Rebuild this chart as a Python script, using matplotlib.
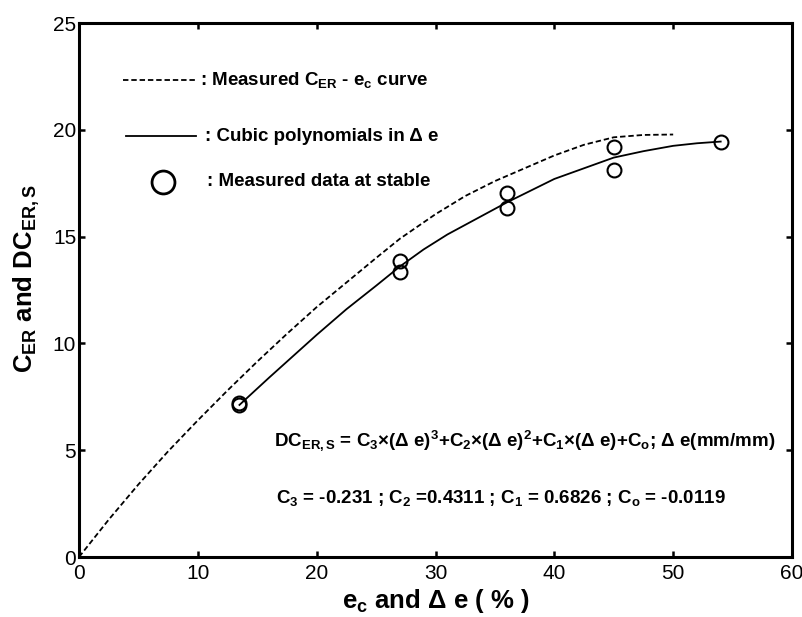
import matplotlib
matplotlib.use("Agg")
import matplotlib.pyplot as plt

plt.rcParams['font.family'] = ['Liberation Sans', 'DejaVu Sans']
plt.rcParams['mathtext.fontset'] = 'custom'
plt.rcParams['mathtext.rm'] = 'Liberation Sans:bold'
plt.rcParams['mathtext.bf'] = 'Liberation Sans:bold'
plt.rcParams['mathtext.it'] = 'Liberation Sans:bold'

# measured C_ER - e_c curve
ec_curve = [0, 2.5, 5, 7.5, 10, 12.5, 15, 17.5, 20, 22.5, 25, 27, 30,
            32.5, 35, 37.5, 40, 42.5, 45, 47.5, 50]
cer_curve = [0, 1.75, 3.4, 4.95, 6.4, 7.8, 9.15, 10.45, 11.7, 12.85, 14.0,
             14.9, 16.05, 16.9, 17.6, 18.2, 18.8, 19.3, 19.65, 19.76, 19.78]

# cubic polynomial fit in delta e
de_fit = [13.5, 16, 18, 20, 22.5, 25, 27, 29, 31, 33, 36, 38, 40, 42, 45,
          47.5, 50, 52, 54]
dc_fit = [7.12, 8.4, 9.4, 10.4, 11.6, 12.7, 13.6, 14.4, 15.1, 15.7, 16.6,
          17.15, 17.7, 18.1, 18.7, 19.0, 19.25, 19.37, 19.45]

# measured data at stable
de_meas = [13.5, 13.5, 27, 27, 36, 36, 45, 45, 54]
dc_meas = [7.2, 7.1, 13.85, 13.35, 17.05, 16.35, 19.2, 18.1, 19.45]

fig = plt.figure(figsize=(8.03, 6.17), dpi=100)
ax = fig.add_axes([0.0984, 0.0972, 0.8879, 0.8655])

dash = (0, (3, 1.6))
ax.plot(ec_curve, cer_curve, color='black', lw=1.3, linestyle=dash)
ax.plot(de_fit, dc_fit, color='black', lw=1.3)
ax.plot(de_meas, dc_meas, 'o', mfc='none', mec='black', mew=1.5, ms=10)

# hand-made legend
fs = 13.5
ax.plot([3.7, 9.9], [22.33, 22.33], color='black', lw=1.3, linestyle=dash)
ax.text(10.2, 22.33, r': Measured C$_{ER}$ - e$_{c}$ curve', fontsize=fs,
        fontweight='bold', va='center')
ax.plot([3.95, 9.85], [19.7, 19.7], color='black', lw=1.3)
ax.text(10.6, 19.7, ': Cubic polynomials in Δ e', fontsize=fs,
        fontweight='bold', va='center')
ax.plot([7.07], [17.56], 'o', mfc='none', mec='black', mew=2, ms=16.5)
ax.text(10.8, 17.6, ': Measured data at stable', fontsize=fs,
        fontweight='bold', va='center')

ax.text(16.4, 5.45,
        r'DC$_{ER,S}$ = C$_3$×(Δ e)$^3$+C$_2$×(Δ e)$^2$+C$_1$×(Δ e)+C$_o$; Δ e(mm/mm)',
        fontsize=fs, fontweight='bold', va='center')
ax.text(16.6, 2.75,
        r'C$_3$ = -0.231 ; C$_2$ =0.4311 ; C$_1$ = 0.6826 ; C$_o$ = -0.0119',
        fontsize=fs, fontweight='bold', va='center')

ax.set_xlim(0, 60)
ax.set_ylim(0, 25)
ax.set_xticks(range(0, 61, 10))
ax.set_yticks(range(0, 26, 5))
ax.tick_params(direction='in', top=True, right=True, length=4, width=1.8,
               labelsize=15)
ax.tick_params(axis='x', pad=5)
ax.tick_params(axis='y', pad=2)
for sp in ax.spines.values():
    sp.set_linewidth(2.2)

ax.set_xlabel('e$_c$ and Δ e ( % )', fontsize=18.5, fontweight='bold', labelpad=3)
ax.set_ylabel('C$_{ER}$ and DC$_{ER,S}$', fontsize=18.5, fontweight='bold')
ax.yaxis.set_label_coords(-0.052, 0.522)

fig.savefig('out.png', dpi=100)
